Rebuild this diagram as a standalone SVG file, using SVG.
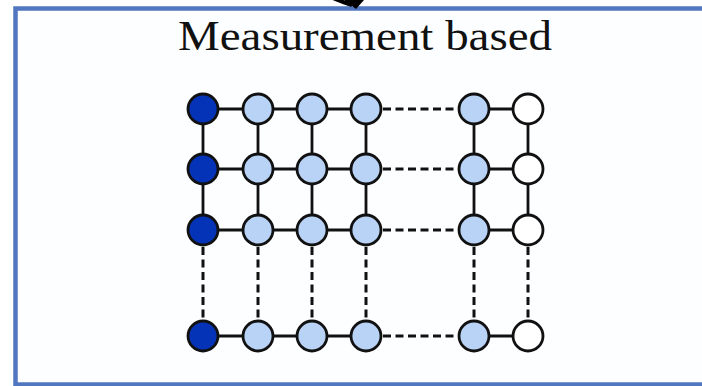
<svg xmlns="http://www.w3.org/2000/svg" width="702" height="386" viewBox="0 0 702 386">
<style>
.frame{fill:#fdfeff;stroke:#5077c0;stroke-width:4.5}
.title{font-family:"Liberation Serif","Times New Roman",serif;font-size:42px;fill:#111}
.e{stroke:#111;stroke-width:2.8;fill:none}
.d{stroke:#111;stroke-width:3;fill:none;stroke-dasharray:8,4.5}
circle{stroke:#111;stroke-width:2.8}
.dk{fill:#0433b8}
.lt{fill:#b9d3f6}
.wh{fill:#ffffff}
</style>
<rect x="0" y="0" width="702" height="386" fill="#ffffff"/>
<rect class="frame" x="15.5" y="8.5" width="700" height="376"/>
<g id="arrow">
<path d="M333,-2 Q345,3 352,5" stroke="#000" stroke-width="4" fill="none"/>
<polygon points="344,0 364,0 356,9" fill="#000"/>
</g>
<text class="title" x="178" y="50" textLength="374" lengthAdjust="spacingAndGlyphs">Measurement based</text>
<g id="connectors">
<path class="e" d="M203,109H366M474,109H528M203,169H366M474,169H528M203,230H366M474,230H528M203,336H366M474,336H528"/>
<path class="d" d="M383,109H459M383,169H459M383,230H459M383,336H459"/>
<path class="e" d="M203,109V230M258,109V230M312,109V230M366,109V230M474,109V230M528,109V230"/>
<path class="d" d="M203,247V321M258,247V321M312,247V321M366,247V321M474,247V321M528,247V321"/>
</g>
<g id="nodes">
<g id="n-r1"><circle class="dk" cx="203" cy="109" r="15"/><circle class="lt" cx="258" cy="109" r="15"/><circle class="lt" cx="312" cy="109" r="15"/><circle class="lt" cx="366" cy="109" r="15"/><circle class="lt" cx="474" cy="109" r="15"/><circle class="wh" cx="528" cy="109" r="15"/></g>
<g id="n-r2"><circle class="dk" cx="203" cy="169" r="15"/><circle class="lt" cx="258" cy="169" r="15"/><circle class="lt" cx="312" cy="169" r="15"/><circle class="lt" cx="366" cy="169" r="15"/><circle class="lt" cx="474" cy="169" r="15"/><circle class="wh" cx="528" cy="169" r="15"/></g>
<g id="n-r3"><circle class="dk" cx="203" cy="230" r="15"/><circle class="lt" cx="258" cy="230" r="15"/><circle class="lt" cx="312" cy="230" r="15"/><circle class="lt" cx="366" cy="230" r="15"/><circle class="lt" cx="474" cy="230" r="15"/><circle class="wh" cx="528" cy="230" r="15"/></g>
<g id="n-r4"><circle class="dk" cx="203" cy="336" r="15"/><circle class="lt" cx="258" cy="336" r="15"/><circle class="lt" cx="312" cy="336" r="15"/><circle class="lt" cx="366" cy="336" r="15"/><circle class="lt" cx="474" cy="336" r="15"/><circle class="wh" cx="528" cy="336" r="15"/></g>
</g>
</svg>
